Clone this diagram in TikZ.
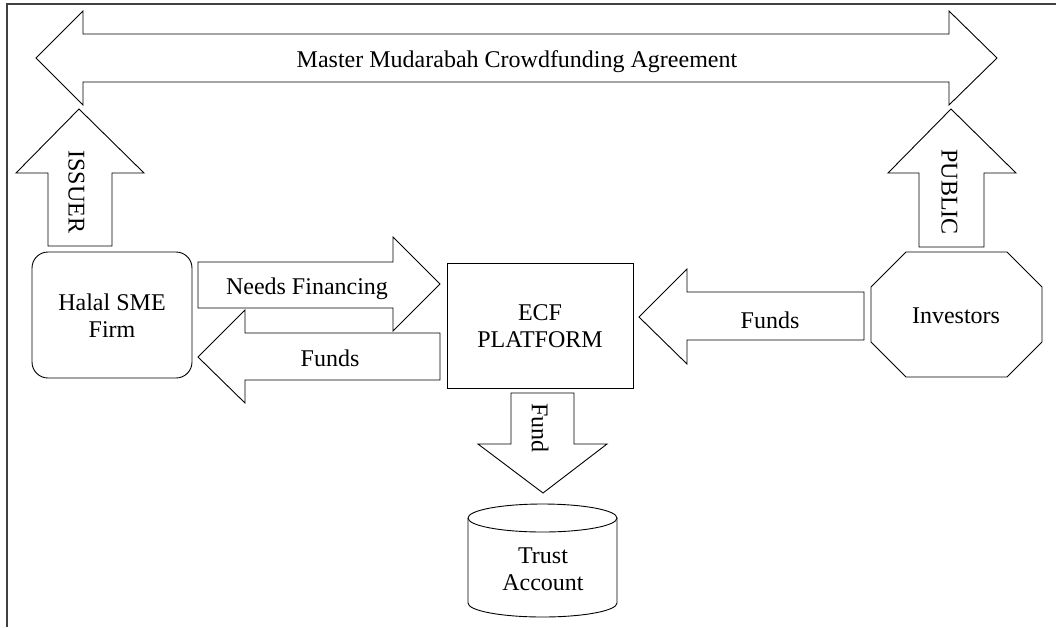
\documentclass[tikz,border=0pt]{standalone}
\usepackage{fontspec}
\setmainfont{Liberation Serif}
\begin{document}
\begin{tikzpicture}[x=1pt,y=-1pt,
  shp/.style={draw=black,line width=0.9pt,line join=miter,fill=white},
  lbl/.style={font=\fontsize{24}{27}\selectfont,inner sep=0pt,align=center},
  box/.style={shp,inner sep=0pt}]
\useasboundingbox (0,0) rectangle (1056,627);
% frame
\draw[line width=1.2pt,draw=black!75] (7,627) -- (7,4) -- (1056,4);
% master agreement double arrow
\draw[shp] (36,58) -- (83,11) -- (83,34) -- (949,34) -- (949,11) -- (997,58) -- (949,105) -- (949,82) -- (83,82) -- (83,105) -- cycle;
\node[lbl,anchor=base] (mma) at (517,67) {Master Mudarabah Crowdfunding Agreement};
% issuer arrow
\draw[shp] (79,109) -- (144,173) -- (112,173) -- (112,246) -- (48,246) -- (48,173) -- (16,173) -- cycle;
\node[lbl,rotate=-90] (issuer) at (76.5,192) {ISSUER};
% public arrow
\draw[shp] (951,109) -- (1016,173) -- (984,173) -- (984,247) -- (919,247) -- (919,173) -- (888,173) -- cycle;
\node[lbl,rotate=-90] (public) at (949.5,192) {PUBLIC};
% firm
\node[box,rounded corners=16pt,minimum width=160pt,minimum height=126pt] (firm) at (112,315) {};
\node[lbl] (firmt) at (112,316) {Halal SME\\Firm};
% ECF platform
\node[box,minimum width=186pt,minimum height=125pt] (ecf) at (540,325.5) {};
\node[lbl] (ecft) at (540,326) {ECF\\PLATFORM};
% investors octagon
\draw[shp] (906,252) -- (1007,252) -- (1042,287) -- (1042,342) -- (1007,377) -- (906,377) -- (871,342) -- (871,287) -- cycle;
\node[lbl,anchor=base] (inv) at (956,323) {Investors};
% needs financing
\draw[shp] (198,262) -- (393,262) -- (393,237) -- (440,284) -- (393,331) -- (393,308) -- (198,308) -- cycle;
\node[lbl,anchor=base] (needs) at (307,294) {Needs Financing};
% funds to firm
\draw[shp] (198,357) -- (245,310) -- (245,333) -- (440,333) -- (440,380) -- (245,380) -- (245,403) -- cycle;
\node[lbl,anchor=base] (funds1) at (330,366) {Funds};
% funds from investors
\draw[shp] (639,317) -- (687,269) -- (687,292) -- (864,292) -- (864,340) -- (687,340) -- (687,364) -- cycle;
\node[lbl,anchor=base] (funds2) at (770,328) {Funds};
% fund down
\draw[shp] (511,393) -- (574,393) -- (574,444) -- (607,444) -- (543,493) -- (478,444) -- (511,444) -- cycle;
\node[lbl,rotate=-90] (fund) at (540,428) {Fund};
% trust account cylinder
\draw[shp] (468,518) -- (468,603) arc[start angle=180,end angle=360,x radius=74.5,y radius=-14] -- (617,518);
\draw[shp] (542.5,518) ellipse[x radius=74.5,y radius=14];
\node[lbl] (trust) at (543,569) {Trust\\Account};
\end{tikzpicture}
\end{document}
